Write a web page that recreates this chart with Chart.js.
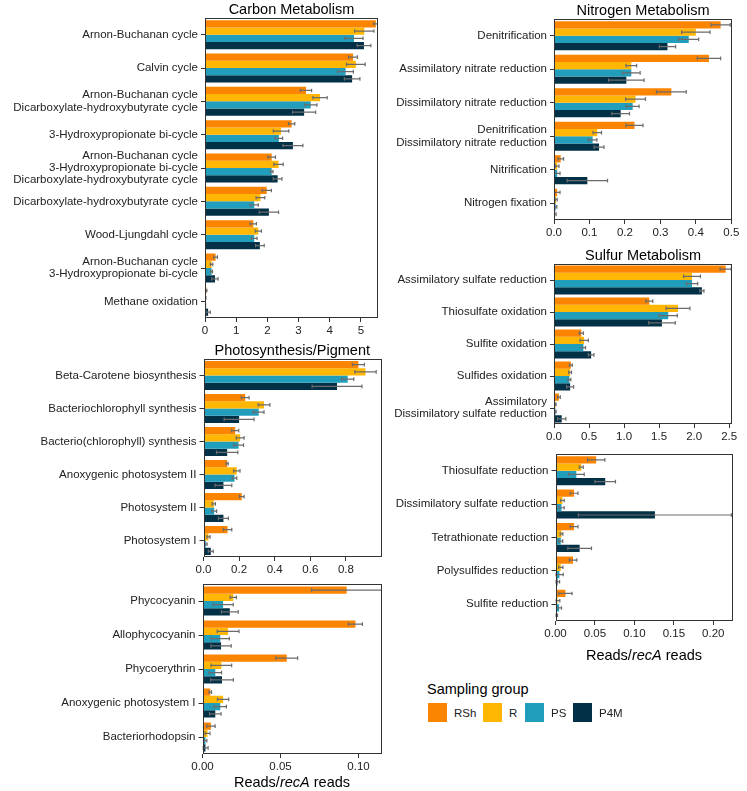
<!DOCTYPE html>
<html>
<head>
<meta charset="utf-8">
<script src="https://cdn.jsdelivr.net/npm/chart.js@4.4.1/dist/chart.umd.min.js"></script>
<style>
body { margin: 0; background: #fff; font-family: "Liberation Sans", Arial, sans-serif; }
#page { position: relative; width: 747px; height: 791px; overflow: hidden; background: #fff; }
canvas { position: absolute; }
.axis-title { position: absolute; font-size: 14.5px; color: #000; transform: translate(-50%, -50%); white-space: nowrap; }
.legend-title { position: absolute; left: 427px; top: 689px; font-size: 14.5px; transform: translateY(-50%); white-space: nowrap; }
.key { position: absolute; top: 703px; width: 19px; height: 19px; }
.key-label { position: absolute; top: 712.5px; font-size: 11.5px; color: #222; transform: translateY(-50%); }
</style>
</head>
<body>
<div id="page">
  <canvas id="carbon"></canvas>
  <canvas id="nitrogen"></canvas>
  <canvas id="sulfur"></canvas>
  <canvas id="photo"></canvas>
  <canvas id="pigment"></canvas>
  <canvas id="reduction"></canvas>
  <div class="axis-title" style="left:644px; top:655px">Reads/<i>recA</i> reads</div>
  <div class="axis-title" style="left:292px; top:782px">Reads/<i>recA</i> reads</div>
  <div class="legend-title">Sampling group</div>
  <div class="key" style="left:428px; background:#FB8500"></div>
  <div class="key-label" style="left:454px">RSh</div>
  <div class="key" style="left:483px; background:#FFB703"></div>
  <div class="key-label" style="left:509px">R</div>
  <div class="key" style="left:525px; background:#219EBC"></div>
  <div class="key-label" style="left:551px">PS</div>
  <div class="key" style="left:573px; background:#023047"></div>
  <div class="key-label" style="left:599px">P4M</div>
</div>
<script>
const groups = ['RSh', 'R', 'PS', 'P4M']
const colors = ['#FB8500', '#FFB703', '#219EBC', '#023047']

// Carbon Metabolism
const carbonLabels = [
  'Arnon-Buchanan cycle',
  'Calvin cycle',
  ['Arnon-Buchanan cycle', 'Dicarboxylate-hydroxybutyrate cycle'],
  '3-Hydroxypropionate bi-cycle',
  ['Arnon-Buchanan cycle', '3-Hydroxypropionate bi-cycle', 'Dicarboxylate-hydroxybutyrate cycle'],
  'Dicarboxylate-hydroxybutyrate cycle',
  'Wood-Ljungdahl cycle',
  ['Arnon-Buchanan cycle', '3-Hydroxypropionate bi-cycle'],
  'Methane oxidation'
]
const carbonRSh = [5.48, 4.75, 3.24, 2.78, 2.14, 1.98, 1.55, 0.34, 0.04]
const carbonR = [5.11, 4.84, 3.69, 2.44, 2.36, 1.78, 1.71, 0.21, 0.02]
const carbonPS = [4.78, 4.51, 3.39, 2.37, 2.14, 1.58, 1.58, 0.21, 0.01]
const carbonP4M = [5.10, 4.72, 3.18, 2.82, 2.33, 2.05, 1.76, 0.32, 0.10]
const carbonRShSd = [0.07, 0.14, 0.18, 0.10, 0.12, 0.15, 0.10, 0.06, 0.02]
const carbonRSd = [0.31, 0.30, 0.23, 0.25, 0.15, 0.14, 0.10, 0.04, 0.01]
const carbonPSSd = [0.29, 0.25, 0.20, 0.12, 0.04, 0.13, 0.09, 0.03, 0.01]
const carbonP4MSd = [0.22, 0.25, 0.37, 0.32, 0.14, 0.31, 0.14, 0.10, 0.07]

// Nitrogen Metabolism
const nitrogenLabels = [
  'Denitrification',
  'Assimilatory nitrate reduction',
  'Dissimilatory nitrate reduction',
  ['Denitrification', 'Dissimilatory nitrate reduction'],
  'Nitrification',
  'Nitrogen fixation'
]
const nitrogenRSh = [0.470, 0.437, 0.331, 0.227, 0.019, 0.009]
const nitrogenR = [0.400, 0.218, 0.230, 0.122, 0.009, 0.006]
const nitrogenPS = [0.380, 0.218, 0.222, 0.109, 0.009, 0.005]
const nitrogenP4M = [0.320, 0.204, 0.188, 0.127, 0.094, 0.003]
const nitrogenRShSd = [0.027, 0.033, 0.042, 0.024, 0.008, 0.008]
const nitrogenRSd = [0.040, 0.015, 0.028, 0.012, 0.005, 0.003]
const nitrogenPSSd = [0.028, 0.025, 0.018, 0.012, 0.008, 0.003]
const nitrogenP4MSd = [0.023, 0.050, 0.025, 0.014, 0.057, 0.003]

// Sulfur Metabolism
const sulfurLabels = [
  'Assimilatory sulfate reduction',
  'Thiosulfate oxidation',
  'Sulfite oxidation',
  'Sulfides oxidation',
  ['Assimilatory', 'Dissimilatory sulfate reduction']
]
const sulfurRSh = [2.45, 1.36, 0.39, 0.24, 0.07]
const sulfurR = [1.97, 1.77, 0.43, 0.23, 0.02]
const sulfurPS = [1.97, 1.63, 0.42, 0.22, 0.02]
const sulfurP4M = [2.11, 1.54, 0.53, 0.23, 0.11]
const sulfurRShSd = [0.08, 0.05, 0.03, 0.02, 0.02]
const sulfurRSd = [0.12, 0.17, 0.06, 0.02, 0.01]
const sulfurPSSd = [0.08, 0.13, 0.03, 0.02, 0.01]
const sulfurP4MSd = [0.03, 0.19, 0.04, 0.05, 0.06]

// Photosynthesis/Pigment
const photoLabels = [
  'Beta-Carotene biosynthesis',
  'Bacteriochlorophyll synthesis',
  'Bacterio(chlorophyll) synthesis',
  'Anoxygenic photosystem II',
  'Photosystem II',
  'Photosystem I'
]
const photoRSh = [0.87, 0.234, 0.178, 0.133, 0.215, 0.135]
const photoR = [0.91, 0.34, 0.206, 0.187, 0.058, 0.028]
const photoPS = [0.81, 0.31, 0.197, 0.174, 0.060, 0.013]
const photoP4M = [0.75, 0.20, 0.133, 0.112, 0.112, 0.041]
const photoRShSd = [0.034, 0.022, 0.020, 0.006, 0.013, 0.024]
const photoRSd = [0.060, 0.033, 0.022, 0.018, 0.009, 0.009]
const photoPSSd = [0.034, 0.030, 0.028, 0.013, 0.014, 0.007]
const photoP4MSd = [0.140, 0.084, 0.060, 0.047, 0.028, 0.014]

// pigments (lower left)
const pigmentLabels = ['Phycocyanin', 'Allophycocyanin', 'Phycoerythrin', 'Anoxygenic photosystem I', 'Bacteriorhodopsin']
const pigmentRSh = [0.0924, 0.098, 0.054, 0.005, 0.0054]
const pigmentR = [0.0197, 0.0164, 0.0121, 0.0132, 0.0032]
const pigmentPS = [0.0132, 0.0114, 0.0082, 0.0114, 0.0019]
const pigmentP4M = [0.0175, 0.0119, 0.0125, 0.0082, 0.0019]
const pigmentRShSd = [0.0225, 0.0045, 0.0070, 0.0008, 0.0027]
const pigmentRSd = [0.0020, 0.0070, 0.0066, 0.0036, 0.0016]
const pigmentPSSd = [0.0065, 0.0058, 0.0040, 0.0039, 0.0009]
const pigmentP4MSd = [0.0054, 0.0065, 0.0073, 0.0037, 0.0017]

// sulfur reduction (lower right)
const reductionLabels = ['Thiosulfate reduction', 'Dissimilatory sulfate reduction', 'Tetrathionate reduction', 'Polysulfides reduction', 'Sulfite reduction']
const reductionRSh = [0.0516, 0.0235, 0.0235, 0.0222, 0.0126]
const reductionR = [0.0327, 0.0088, 0.0076, 0.0067, 0.0025]
const reductionPS = [0.0264, 0.0076, 0.0067, 0.0050, 0.0046]
const reductionP4M = [0.0630, 0.1260, 0.0306, 0.0025, 0.0013]
const reductionRShSd = [0.0110, 0.0050, 0.0050, 0.0048, 0.0084]
const reductionRSd = [0.0025, 0.0023, 0.0017, 0.0027, 0.0030]
const reductionPSSd = [0.0100, 0.0034, 0.0025, 0.0048, 0.0030]
const reductionP4MSd = [0.0130, 0.0970, 0.0150, 0.0027, 0.0013]

const FONT = '"Liberation Sans", Arial, sans-serif'
const TEXT = '#222'
const LINE = '#333'

function panel(id, o) {
  const canvas = document.getElementById(id)
  canvas.width = o.w
  canvas.height = o.h
  canvas.style.left = o.left + 'px'
  canvas.style.top = o.top + 'px'
  const f = o.frame
  const n = o.labels.length
  const catSize = (f.b - f.t) / n
  const pct = 29 / catSize

  const extras = {
    id: 'extras' + id,
    afterDatasetsDraw(chart) {
      const ctx = chart.ctx
      const a = chart.chartArea
      const x = chart.scales.x
      ctx.save()
      ctx.beginPath()
      ctx.rect(a.left, a.top, a.right - a.left, a.bottom - a.top)
      ctx.clip()
      ctx.strokeStyle = '#6b6b6b'
      ctx.lineWidth = 1.2
      chart.data.datasets.forEach((ds, i) => {
        chart.getDatasetMeta(i).data.forEach((bar, j) => {
          const lo = x.getPixelForValue(ds.data[j] - ds.sd[j])
          const hi = x.getPixelForValue(ds.data[j] + ds.sd[j])
          const y = bar.y
          ctx.beginPath()
          ctx.moveTo(lo, y); ctx.lineTo(hi, y)
          ctx.moveTo(lo, y - 1.8); ctx.lineTo(lo, y + 1.8)
          ctx.moveTo(hi, y - 1.8); ctx.lineTo(hi, y + 1.8)
          ctx.stroke()
        })
      })
      ctx.restore()

      ctx.save()
      ctx.strokeStyle = LINE
      ctx.lineWidth = 1
      ctx.strokeRect(Math.round(a.left) + 0.5, Math.round(a.top) + 0.5, Math.round(a.right - a.left) - 1, Math.round(a.bottom - a.top) - 1)
      if (o.title) {
        ctx.fillStyle = '#000'
        ctx.font = '14.5px ' + FONT
        ctx.textAlign = 'center'
        ctx.textBaseline = 'alphabetic'
        ctx.fillText(o.title, (a.left + a.right) / 2, a.top - 4)
      }
      ctx.restore()
    }
  }

  return new Chart(canvas, {
    type: 'bar',
    data: {
      labels: o.labels,
      datasets: groups.map((g, i) => ({
        label: g,
        data: o.values[i],
        sd: o.sd[i],
        backgroundColor: colors[i],
        borderWidth: 0,
        categoryPercentage: pct,
        barPercentage: 1
      }))
    },
    options: {
      indexAxis: 'y',
      responsive: false,
      animation: false,
      layout: {
        padding: { top: f.t - o.top, right: o.w - (f.r - o.left), bottom: 0, left: 0 }
      },
      plugins: {
        legend: { display: false },
        tooltip: { enabled: false }
      },
      scales: {
        x: {
          type: 'linear',
          min: 0,
          max: o.max,
          border: { display: false },
          grid: { drawOnChartArea: false, drawTicks: true, tickLength: 4, color: LINE },
          ticks: {
            stepSize: o.step,
            includeBounds: false,
            color: TEXT,
            padding: 2,
            font: { family: FONT, size: 11.5 },
            callback: v => v.toFixed(o.digits)
          },
          afterFit: s => { s.height = o.top + o.h - f.b }
        },
        y: {
          type: 'category',
          offset: true,
          border: { display: false },
          grid: { offset: false, drawOnChartArea: false, drawTicks: true, tickLength: 4, color: LINE },
          ticks: {
            autoSkip: false,
            color: TEXT,
            padding: 3,
            font: { family: FONT, size: 11.5, lineHeight: 1.07 }
          },
          afterFit: s => { s.width = f.l - o.left }
        }
      }
    },
    plugins: [extras]
  })
}

panel('carbon', {
  title: 'Carbon Metabolism',
  left: 0, top: 0, w: 395, h: 346,
  frame: { l: 205, t: 18, r: 378, b: 318 },
  max: 5.55, step: 1, digits: 0,
  labels: carbonLabels,
  values: [carbonRSh, carbonR, carbonPS, carbonP4M],
  sd: [carbonRShSd, carbonRSd, carbonPSSd, carbonP4MSd]
})

panel('nitrogen', {
  title: 'Nitrogen Metabolism',
  left: 380, top: 0, w: 367, h: 248,
  frame: { l: 554, t: 19, r: 732, b: 220 },
  max: 0.502, step: 0.1, digits: 1,
  labels: nitrogenLabels,
  values: [nitrogenRSh, nitrogenR, nitrogenPS, nitrogenP4M],
  sd: [nitrogenRShSd, nitrogenRSd, nitrogenPSSd, nitrogenP4MSd]
})

panel('sulfur', {
  title: 'Sulfur Metabolism',
  left: 380, top: 240, w: 367, h: 212,
  frame: { l: 554, t: 264, r: 732, b: 424 },
  max: 2.54, step: 0.5, digits: 1,
  labels: sulfurLabels,
  values: [sulfurRSh, sulfurR, sulfurPS, sulfurP4M],
  sd: [sulfurRShSd, sulfurRSd, sulfurPSSd, sulfurP4MSd]
})

panel('photo', {
  title: 'Photosynthesis/Pigment',
  left: 0, top: 332, w: 396, h: 253,
  frame: { l: 203.5, t: 359, r: 381, b: 557 },
  max: 0.997, step: 0.2, digits: 1,
  labels: photoLabels,
  values: [photoRSh, photoR, photoPS, photoP4M],
  sd: [photoRShSd, photoRSd, photoPSSd, photoP4MSd]
})

panel('pigment', {
  left: 0, top: 570, w: 396, h: 212,
  frame: { l: 202.5, t: 584, r: 381, b: 754 },
  max: 0.1144, step: 0.05, digits: 2,
  labels: pigmentLabels,
  values: [pigmentRSh, pigmentR, pigmentPS, pigmentP4M],
  sd: [pigmentRShSd, pigmentRSd, pigmentPSSd, pigmentP4MSd]
})

panel('reduction', {
  left: 380, top: 440, w: 367, h: 209,
  frame: { l: 555.5, t: 454, r: 732, b: 621 },
  max: 0.2237, step: 0.05, digits: 2,
  labels: reductionLabels,
  values: [reductionRSh, reductionR, reductionPS, reductionP4M],
  sd: [reductionRShSd, reductionRSd, reductionPSSd, reductionP4MSd]
})
</script>
</body>
</html>
